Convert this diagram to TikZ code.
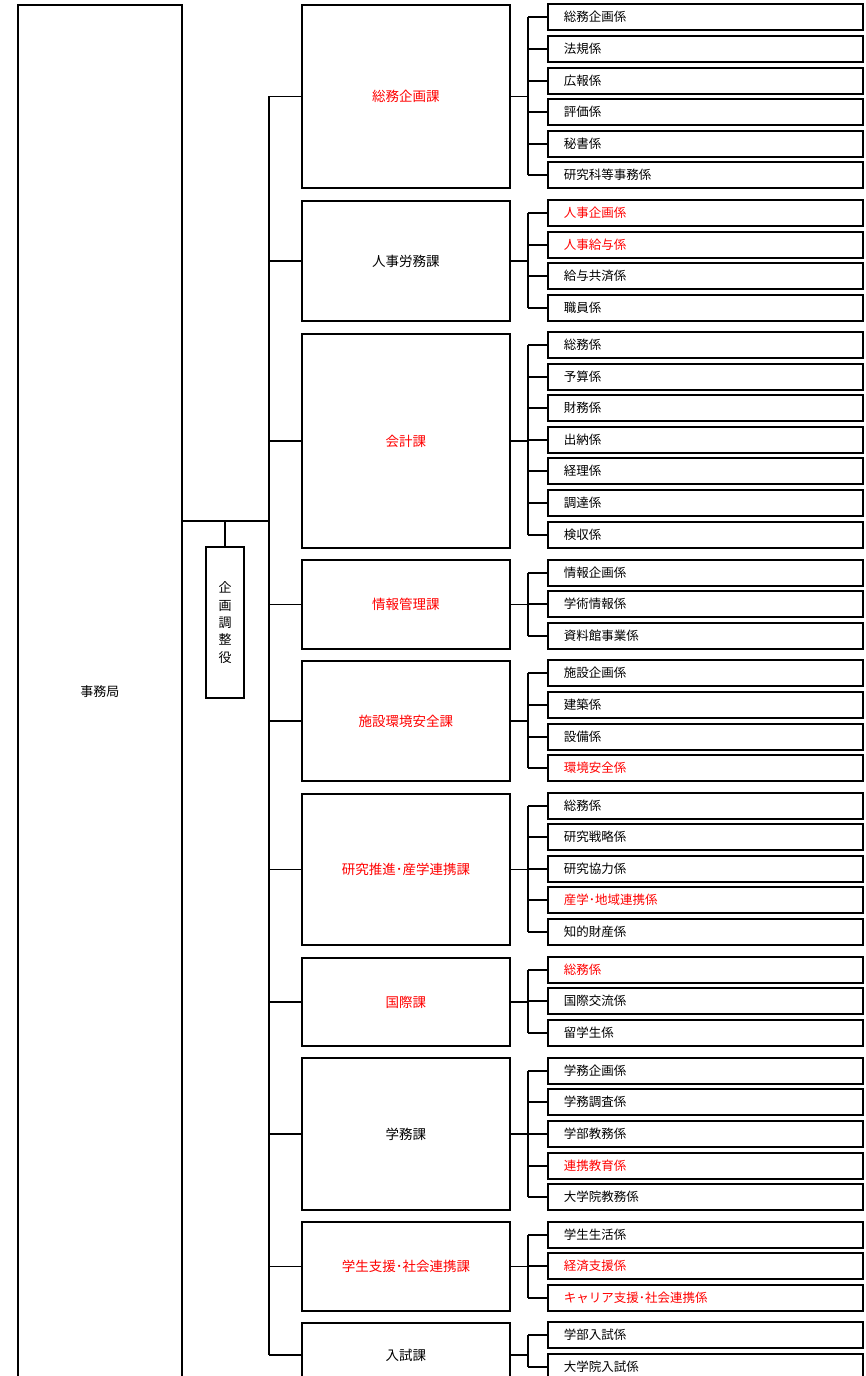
\documentclass[tikz,border=0pt]{standalone}
\usepackage{fontspec}
\setmainfont{Noto Sans CJK JP}
\begin{document}
\begin{tikzpicture}[x=1pt,y=-1pt,
  box/.style={draw,line width=1.8pt,fill=white},
  sec/.style={box,anchor=north west,minimum width=208pt,inner sep=0pt,font=\fontsize{13.5}{16}\selectfont},
  sub/.style={box,anchor=west,minimum height=26pt,text width=283pt,inner xsep=16pt,inner ysep=0pt,align=left,font=\fontsize{12.5}{15}\selectfont},
  conn/.style={line width=1.5pt},
  hl/.style={text=red}]
\useasboundingbox (0,0) rectangle (866,1376);

% main office
\node[box,line width=1.5pt,anchor=north west,minimum width=164pt,minimum height=1374pt,font=\fontsize{13}{16}\selectfont] (jim) at (17,4) {事務局};
\coordinate (trunk) at (269,521);
\coordinate (b) at (528,0);

% planning coordinator
\node[box,minimum width=38pt,minimum height=151pt,inner sep=0pt,align=center,font=\fontsize{13}{17.3}\selectfont] (kik) at (225,622.5) {企\\画\\調\\整\\役};

% sections
\node[sec,hl,minimum height=183pt] (s1) at (301,4) {総務企画課};
\node[sec,minimum height=120pt] (s2) at (301,200) {人事労務課};
\node[sec,hl,minimum height=214pt] (s3) at (301,333) {会計課};
\node[sec,hl,minimum height=89pt] (s4) at (301,559) {情報管理課};
\node[sec,hl,minimum height=120pt] (s5) at (301,660) {施設環境安全課};
\node[sec,hl,minimum height=151pt] (s6) at (301,793) {研究推進･産学連携課};
\node[sec,hl,minimum height=88pt] (s7) at (301,957) {国際課};
\node[sec,minimum height=152pt] (s8) at (301,1057) {学務課};
\node[sec,hl,minimum height=89pt] (s9) at (301,1221) {学生支援･社会連携課};
\node[sec,minimum height=64pt] (s10) at (301,1322) {入試課};

% trunk connectors
\draw[conn] (jim.east |- trunk) -- (trunk);
\draw[conn] (kik.north) -- (kik.north |- trunk);
\draw[conn] (s1.west -| trunk) -- (s10.west -| trunk);
\foreach \s in {s1,s2,s3,s4,s5,s6,s7,s8,s9,s10}
  \draw[conn] (\s.west -| trunk) -- (\s.west);

% sub units
\foreach \i/\y/\t/\c in {a/17/総務企画係/black,b/49/法規係/black,c/81/広報係/black,d/112/評価係/black,e/144/秘書係/black,f/175/研究科等事務係/black}
  {\node[sub,text=\c] (s1\i) at (547,\y) {\t}; \draw[conn] (s1\i.west) -- (s1\i.west -| b);}
\foreach \i/\y/\t/\c in {a/213/人事企画係/red,b/245/人事給与係/red,c/276/給与共済係/black,d/308/職員係/black}
  {\node[sub,text=\c] (s2\i) at (547,\y) {\t}; \draw[conn] (s2\i.west) -- (s2\i.west -| b);}
\foreach \i/\y/\t/\c in {a/345/総務係/black,b/377/予算係/black,c/408/財務係/black,d/440/出納係/black,e/471/経理係/black,f/503/調達係/black,g/535/検収係/black}
  {\node[sub,text=\c] (s3\i) at (547,\y) {\t}; \draw[conn] (s3\i.west) -- (s3\i.west -| b);}
\foreach \i/\y/\t/\c in {a/573/情報企画係/black,b/604/学術情報係/black,c/636/資料館事業係/black}
  {\node[sub,text=\c] (s4\i) at (547,\y) {\t}; \draw[conn] (s4\i.west) -- (s4\i.west -| b);}
\foreach \i/\y/\t/\c in {a/673/施設企画係/black,b/705/建築係/black,c/737/設備係/black,d/768/環境安全係/red}
  {\node[sub,text=\c] (s5\i) at (547,\y) {\t}; \draw[conn] (s5\i.west) -- (s5\i.west -| b);}
\foreach \i/\y/\t/\c in {a/806/総務係/black,b/837/研究戦略係/black,c/869/研究協力係/black,d/900/産学･地域連携係/red,e/932/知的財産係/black}
  {\node[sub,text=\c] (s6\i) at (547,\y) {\t}; \draw[conn] (s6\i.west) -- (s6\i.west -| b);}
\foreach \i/\y/\t/\c in {a/970/総務係/red,b/1001/国際交流係/black,c/1033/留学生係/black}
  {\node[sub,text=\c] (s7\i) at (547,\y) {\t}; \draw[conn] (s7\i.west) -- (s7\i.west -| b);}
\foreach \i/\y/\t/\c in {a/1071/学務企画係/black,b/1102/学務調査係/black,c/1134/学部教務係/black,d/1166/連携教育係/red,e/1197/大学院教務係/black}
  {\node[sub,text=\c] (s8\i) at (547,\y) {\t}; \draw[conn] (s8\i.west) -- (s8\i.west -| b);}
\foreach \i/\y/\t/\c in {a/1235/学生生活係/black,b/1266/経済支援係/red,c/1298/キャリア支援･社会連携係/red}
  {\node[sub,text=\c] (s9\i) at (547,\y) {\t}; \draw[conn] (s9\i.west) -- (s9\i.west -| b);}
\foreach \i/\y/\t/\c in {a/1335/学部入試係/black,b/1367/大学院入試係/black}
  {\node[sub,text=\c] (s10\i) at (547,\y) {\t}; \draw[conn] (s10\i.west) -- (s10\i.west -| b);}

% brackets
\foreach \s/\f/\l in {s1/s1a/s1f,s2/s2a/s2d,s3/s3a/s3g,s4/s4a/s4c,s5/s5a/s5d,s6/s6a/s6e,s7/s7a/s7c,s8/s8a/s8e,s9/s9a/s9c,s10/s10a/s10b}
  {\draw[conn] (\s.east) -- (\s.east -| b);
   \draw[conn] (\f.west -| b) -- (\l.west -| b);}
\end{tikzpicture}
\end{document}
